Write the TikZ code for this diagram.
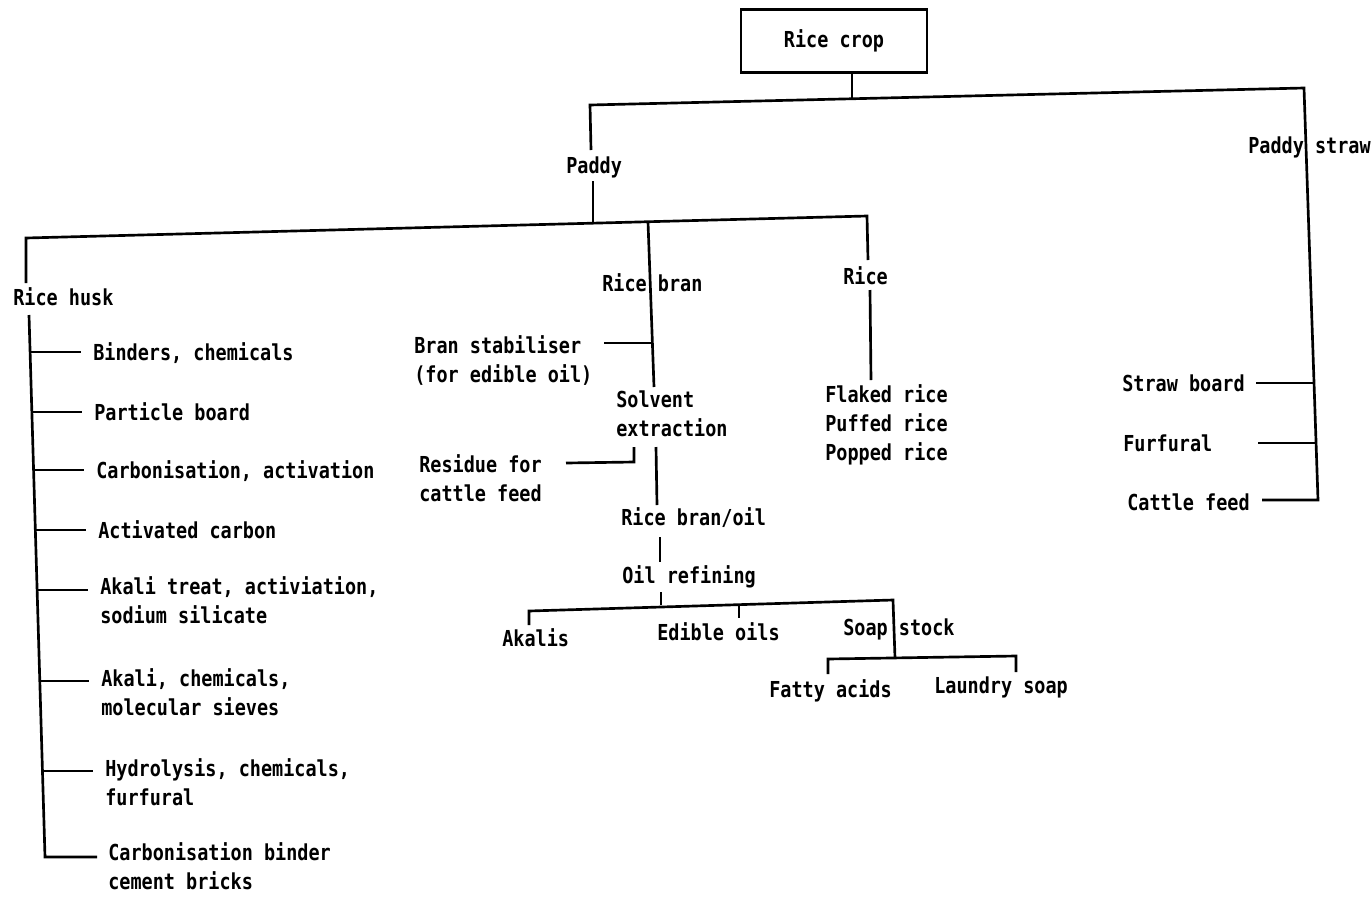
\documentclass[tikz,border=0pt]{standalone}
\usepackage{fontspec}
\newfontfamily\diagfont[FakeStretch=0.84]{DejaVu Sans Mono}
\newcommand\tstrut{\rule{0pt}{13pt}}
\begin{document}
\begin{tikzpicture}[x=0.75pt,y=-0.75pt,line width=2pt,
  txt/.style={inner sep=0pt,anchor=north west,align=left,yshift=1.5pt,
    font=\diagfont\bfseries\fontsize{16.5pt}{21.75pt}\selectfont,
    execute at begin node=\tstrut},
  boxnode/.style={draw,line width=2pt,inner sep=0pt,minimum width=139.5pt,minimum height=47pt,
    font=\diagfont\bfseries\fontsize{16.5pt}{21.75pt}\selectfont}]
\useasboundingbox (0,0) rectangle (1371,897);

% ---------- nodes ----------
\node[boxnode] (crop) at (834,41) {Rice crop};
\node[txt] (paddy) at (565,157) {Paddy};
\node[txt] (straw) at (1247,137) {Paddy straw};
\node[txt] (husk) at (12,288) {Rice husk};
\node[txt] (bran) at (601,274) {Rice bran};
\node[txt] (rice) at (842,267) {Rice};
\node[txt] (stab) at (413,336) {Bran stabiliser\\(for edible oil)};
\node[txt] (solv) at (615,391) {Solvent\\extraction};
\node[txt] (resid) at (418,455) {Residue for\\cattle feed};
\node[txt] (bo) at (620,508) {Rice bran/oil};
\node[txt] (oref) at (621,566) {Oil refining};
\node[txt] (akalis) at (501,629) {Akalis};
\node[txt] (edible) at (656,623) {Edible oils};
\node[txt] (soap) at (842,619) {Soap stock};
\node[txt] (fatty) at (768,680) {Fatty acids};
\node[txt] (laundry) at (933,677) {Laundry soap};
\node[txt] (flaked) at (824,385) {Flaked rice\\Puffed rice\\Popped rice};
\node[txt] (sboard) at (1121,375) {Straw board};
\node[txt] (furf) at (1122,435) {Furfural};
\node[txt] (cfeed) at (1126,494) {Cattle feed};

\node[txt] (h1) at (92,343) {Binders, chemicals};
\node[txt] (h2) at (93,403) {Particle board};
\node[txt] (h3) at (95,461) {Carbonisation, activation};
\node[txt] (h4) at (97,521) {Activated carbon};
\node[txt] (h5) at (99,577) {Akali treat, activiation,\\sodium silicate};
\node[txt] (h6) at (100,669) {Akali, chemicals,\\molecular sieves};
\node[txt] (h7) at (104,759) {Hydrolysis, chemicals,\\furfural};
\node[txt] (h8) at (107,843) {Carbonisation binder\\cement bricks};

% ---------- junction coordinates ----------
\coordinate (j0) at (852,99);
\coordinate (pL) at (590,105);
\coordinate (pR) at (1304,88);
\coordinate (pa1) at (591,150);
\coordinate (pa2) at (593,181);
\coordinate (pj) at (593,223);
\coordinate (hL) at (26,238);
\coordinate (hR) at (867,216);
\coordinate (hk1) at (26,283);
\coordinate (hk2) at (29,315);
\coordinate (ri1) at (868,260);
\coordinate (ri2) at (870,290);
\coordinate (ri3) at (871,380);
\coordinate (bj) at (648,222);
\coordinate (bs) at (654,387);
\coordinate (st1) at (652,343);
\coordinate (st2) at (604,343);
\coordinate (so1) at (656,447);
\coordinate (so2) at (657,505);
\coordinate (re1) at (634,447);
\coordinate (re2) at (634,462);
\coordinate (re3) at (566,463);
\coordinate (bo1) at (660,537);
\coordinate (bo2) at (660,562);
\coordinate (or1) at (661,592);
\coordinate (or2) at (661,605);
\coordinate (ak1) at (529,625);
\coordinate (aL) at (529,611);
\coordinate (aR) at (893,600);
\coordinate (sp1) at (895,658);
\coordinate (ed1) at (739,605);
\coordinate (ed2) at (739,618);
\coordinate (fa1) at (828,674);
\coordinate (fL) at (828,659);
\coordinate (fR) at (1016,656);
\coordinate (la1) at (1016,672);
\coordinate (sc) at (1318,500);
\coordinate (cfE) at (1262,500);
\coordinate (sb1) at (1314,383);
\coordinate (sb2) at (1256,383);
\coordinate (fu1) at (1316,443);
\coordinate (fu2) at (1258,443);
% husk spine
\coordinate (s1) at (30,352);  \coordinate (t1) at (81,352);
\coordinate (s2) at (32,412);  \coordinate (t2) at (82,412);
\coordinate (s3) at (34,470);  \coordinate (t3) at (84,470);
\coordinate (s4) at (35,530);  \coordinate (t4) at (86,530);
\coordinate (s5) at (37,590);  \coordinate (t5) at (88,590);
\coordinate (s6) at (40,681);  \coordinate (t6) at (89,681);
\coordinate (s7) at (42,771);  \coordinate (t7) at (93,771);
\coordinate (s8) at (45,857);  \coordinate (t8) at (97,857);

% ---------- connectors ----------
\draw (crop.south -| j0) -- (j0);
\draw (pa1) -- (pL) -- (pR) -- (sc) -- (cfE);
\draw (sb1) -- (sb2);
\draw (fu1) -- (fu2);
\draw (pa2) -- (pj);
\draw (hk1) -- (hL) -- (hR) -- (ri1);
\draw (ri2) -- (ri3);
\draw (bj) -- (bs);
\draw (st1) -- (st2);
\draw (so1) -- (so2);
\draw (re1) -- (re2) -- (re3);
\draw (bo1) -- (bo2);
\draw (or1) -- (or2);
\draw (ak1) -- (aL) -- (aR) -- (sp1);
\draw (ed1) -- (ed2);
\draw (fa1) -- (fL) -- (fR) -- (la1);
\draw (hk2) -- (s8) -- (t8);
\draw (s1) -- (t1);
\draw (s2) -- (t2);
\draw (s3) -- (t3);
\draw (s4) -- (t4);
\draw (s5) -- (t5);
\draw (s6) -- (t6);
\draw (s7) -- (t7);
\end{tikzpicture}
\end{document}
